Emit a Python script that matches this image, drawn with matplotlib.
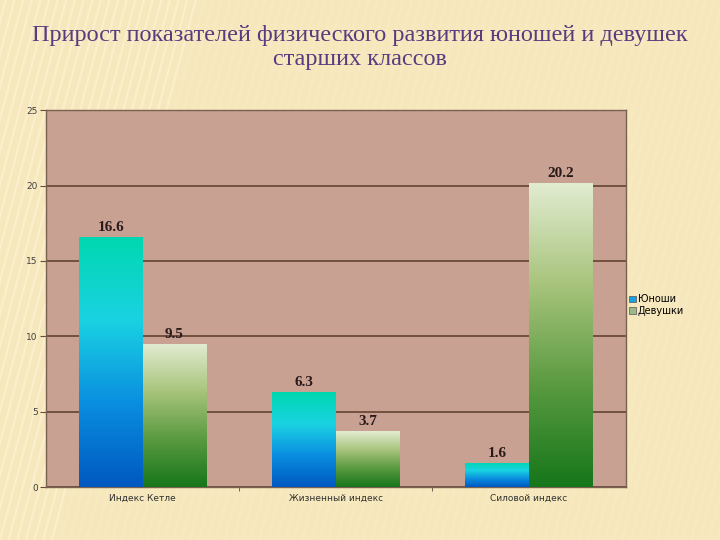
import matplotlib.pyplot as plt
import numpy as np
from matplotlib.colors import LinearSegmentedColormap
from matplotlib.lines import Line2D
from matplotlib.patches import Patch

# chart data
categories = ["Индекс Кетле", "Жизненный индекс", "Силовой индекс"]
boys = [16.6, 6.3, 1.6]
girls = [9.5, 3.7, 20.2]
series_names = ["Юноши", "Девушки"]
y_ticks = [0, 5, 10, 15, 20, 25]

title = "Прирост показателей физического развития юношей и девушек\nстарших классов"

blue_cmap = LinearSegmentedColormap.from_list(
    "blue_grad", ["#0058c0", "#0a8ee0", "#1ad2e2", "#00d8b0"])
green_cmap = LinearSegmentedColormap.from_list(
    "green_grad", ["#16761a", "#5a9a40", "#a8c47c", "#e2ecd2"])


def gradient_bars(ax, bars, cmap):
    grad = np.linspace(0, 1, 256).reshape(-1, 1)
    for b in bars:
        x0, y0 = b.get_x(), b.get_y()
        w, h = b.get_width(), b.get_height()
        im = ax.imshow(grad, cmap=cmap, origin="lower", aspect="auto",
                       extent=[x0, x0 + w, y0, y0 + h], zorder=3)
        im.set_clip_path(b)
        b.set_facecolor("none")


fig = plt.figure(figsize=(7.2, 5.4), dpi=100)
fig.patch.set_facecolor("#f6e8bc")

# faint diagonal stripes of the slide background
for i in range(-30, 120):
    x = i * 0.012
    a = 0.55 if x < 0.08 else 0.18
    fig.add_artist(Line2D([x, x + 0.2], [0, 1.0], transform=fig.transFigure,
                          color="#fff6dc", lw=1.6, alpha=a, zorder=0))

ax = fig.add_axes([0.064, 0.098, 0.805, 0.698])
ax.set_facecolor("#c9a193")

x = np.arange(len(categories))
w = 0.33
b1 = ax.bar(x - w / 2, boys, w, zorder=3, label=series_names[0], color="#1aa0e0")
b2 = ax.bar(x + w / 2, girls, w, zorder=3, label=series_names[1], color="#8ab870")
gradient_bars(ax, b1, blue_cmap)
gradient_bars(ax, b2, green_cmap)

for bars, vals in ((b1, boys), (b2, girls)):
    for b, v in zip(bars, vals):
        ax.text(b.get_x() + b.get_width() / 2, v + 0.2, f"{v}", ha="center",
                va="bottom", fontsize=11, fontweight="bold",
                family="Liberation Serif", color="#2a1a1a", zorder=5)

ax.set_xlim(-0.5, 2.5)
ax.set_ylim(0, 25)
ax.set_yticks(y_ticks)
ax.set_yticklabels([str(t) for t in y_ticks], fontsize=6.5, color="#404040")
ax.yaxis.grid(True, color="#6a4a3a", lw=1.3, zorder=1)
ax.set_axisbelow(True)
ax.set_xticks(x)
ax.set_xticklabels(categories, fontsize=6.5, color="#303030")
ax.set_xticks([0.5, 1.5], minor=True)
ax.tick_params(axis="x", which="major", length=0, pad=5)
ax.tick_params(axis="x", which="minor", length=3, color="#6a4a3a")
ax.tick_params(axis="y", length=4, color="#6a4a3a", pad=2)
for s in ax.spines.values():
    s.set_color("#7a6050")
    s.set_linewidth(1)

handles = [Patch(facecolor="#1aa0e0", edgecolor="#555555", lw=0.5),
           Patch(facecolor="#9ab888", edgecolor="#555555", lw=0.5)]
fig.legend(handles, series_names, loc="upper left",
           bbox_to_anchor=(0.868, 0.462), frameon=False, fontsize=7,
           handlelength=0.7, handleheight=0.7, handletextpad=0.2,
           labelspacing=0.15, borderaxespad=0)

fig.text(0.5, 0.953, title, ha="center", va="top", fontsize=17.5,
         family="Liberation Serif", color="#5a3a80", linespacing=1.18)

fig.savefig("out.png", dpi=100, facecolor=fig.get_facecolor())
